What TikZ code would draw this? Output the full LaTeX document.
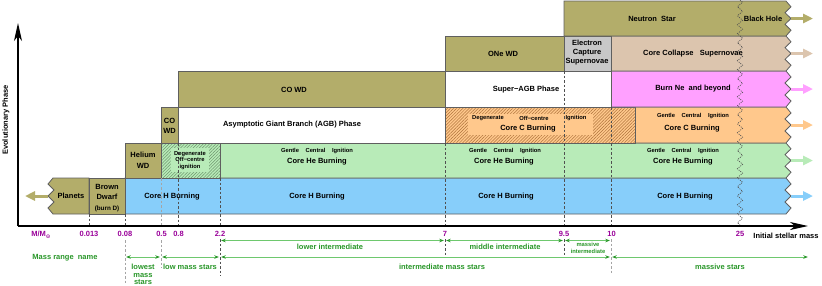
\documentclass[tikz,border=0pt]{standalone}
\usepackage{fontspec}
\setmainfont{Liberation Sans}
\newfontfamily\symfont{DejaVu Sans}
\usetikzlibrary{arrows.meta,patterns.meta,decorations.pathmorphing}
\definecolor{cOlive}{RGB}{179,173,106}
\definecolor{cBlue}{RGB}{135,206,250}
\definecolor{cGreen}{RGB}{184,235,184}
\definecolor{cOrange}{RGB}{255,200,140}
\definecolor{cPink}{RGB}{255,160,255}
\definecolor{cTan}{RGB}{220,197,174}
\definecolor{cGray}{RGB}{200,200,200}
\definecolor{cBorder}{RGB}{95,95,95}
\definecolor{cDash}{RGB}{80,80,80}
\definecolor{cDashL}{RGB}{165,165,165}
\definecolor{cPurple}{RGB}{153,0,153}
\definecolor{cGText}{RGB}{40,150,40}
\definecolor{cGLine}{RGB}{110,200,110}
\definecolor{cHatchG}{RGB}{110,150,110}
\definecolor{cHatchO}{RGB}{175,115,60}
\newcommand\zzbox[4]{%
  \path[box,fill=#4] (#1,#2) -- (786,#2) -- (791,{#2+(#3-#2)/6}) -- (785,{#2+2*(#3-#2)/6})
    -- (791,{#2+3*(#3-#2)/6}) -- (785,{#2+4*(#3-#2)/6}) -- (791,{#2+5*(#3-#2)/6})
    -- (786,#3) -- (#1,#3) -- cycle;}
\begin{document}
\begin{tikzpicture}[x=1bp,y=-1bp,
  box/.style={draw=cBorder,line width=0.8bp},
  hatch/.style={pattern={Lines[angle=45,distance=2.2bp,line width=0.5bp]}},
  txt/.style={font=\fontsize{7.5bp}{9bp}\selectfont\bfseries,inner sep=0pt,align=center},
  tiny/.style={font=\fontsize{5.8bp}{6.6bp}\selectfont\bfseries,inner sep=0pt,align=center},
  mlab/.style={font=\fontsize{7.5bp}{9bp}\selectfont\bfseries,text=cPurple,inner sep=0pt},
  glab/.style={font=\fontsize{7.5bp}{7.6bp}\selectfont\bfseries,text=cGText,inner sep=0pt,align=center},
  garrow/.style={draw=cGLine,line width=0.9bp,
     {Stealth[length=4.5bp,width=3.5bp,color=cGText]}-{Stealth[length=4.5bp,width=3.5bp,color=cGText]},
     shorten <=1.2bp,shorten >=1.2bp},
  dashd/.style={draw=cDash,line width=0.6bp,dash pattern=on 2.5bp off 2bp},
  dashl/.style={draw=cDashL,line width=0.6bp,dash pattern=on 2.5bp off 2bp},
  rowarrow/.style={line width=3bp,-{Triangle[length=10bp,width=9bp]}},
  axisline/.style={line width=1.4bp,-{Stealth[length=18bp,width=8bp,inset=5bp]}}]
\useasboundingbox (0,0) rectangle (822,285);

% ---------- row 1 : hydrogen
\zzbox{125}{178}{214}{cBlue}
\path[box,fill=cOlive] (53,178) -- (89,178) -- (89,214) -- (53,214) -- (48,208) -- (54,202)
   -- (48,196) -- (54,190) -- (48,184) -- cycle;
\path[box,fill=cOlive] (89,178) rectangle (125,214);
% ---------- row 2 : helium
\zzbox{220}{143}{178}{cGreen}
\path[box,fill=cOlive] (125,143) rectangle (161,178);
\path[fill=cGreen] (161,143) rectangle (220,178);
\path[hatch,pattern color=cHatchG] (161,143) rectangle (220,178);
\fill[cGreen] (171,148) rectangle (209,172);
\path[box] (161,143) rectangle (220,178);
% ---------- row 3 : carbon
\zzbox{635}{107}{143}{cOrange}
\path[fill=cOrange] (445,107) rectangle (635,143);
\path[hatch,pattern color=cHatchO] (445,107) rectangle (635,143);
\fill[cOrange] (468,114) rectangle (593,135);
\path[box] (445,107) rectangle (635,143);
\path[box,fill=white] (178,107) rectangle (445,143);
\path[box,fill=cOlive] (161,107) rectangle (178,143);
% ---------- row 4
\zzbox{611}{71}{107}{cPink}
\path[box,fill=white] (445,71) rectangle (611,107);
\path[box,fill=cOlive] (178,71) rectangle (445,107);
% ---------- row 5
\zzbox{611}{36}{71}{cTan}
\path[box,fill=cGray] (564,36) rectangle (611,71);
\path[box,fill=cOlive] (445,36) rectangle (564,71);
% ---------- row 6
\zzbox{564}{1}{36}{cOlive}

% ---------- row arrows
\coordinate (r6a) at (791,18.5);  \coordinate (r6b) at (813,18.5);
\coordinate (r5a) at (791,53.5);  \coordinate (r5b) at (813,53.5);
\coordinate (r4a) at (791,89);    \coordinate (r4b) at (813,89);
\coordinate (r3a) at (791,125);   \coordinate (r3b) at (813,125);
\coordinate (r2a) at (791,160.5); \coordinate (r2b) at (813,160.5);
\coordinate (r1a) at (791,196);   \coordinate (r1b) at (813,196);
\coordinate (pla) at (48,196);    \coordinate (plb) at (25,196);
\draw[rowarrow,cOlive] (r6a) -- (r6b);
\draw[rowarrow,cTan] (r5a) -- (r5b);
\draw[rowarrow,cPink] (r4a) -- (r4b);
\draw[rowarrow,cOrange] (r3a) -- (r3b);
\draw[rowarrow,cGreen] (r2a) -- (r2b);
\draw[rowarrow,cBlue] (r1a) -- (r1b);
\draw[rowarrow,cOlive] (pla) -- (plb);

% ---------- dashed mass limits
\draw[dashd] (89,214) -- (89,226);
\draw[dashd] (125,214) -- (125,226);
\draw[dashl] (125,240) -- (125,283);
\draw[dashl] (161,178) -- (161,226);
\draw[dashl] (161,240) -- (161,268);
\draw[dashd] (178,143) -- (178,226);
\draw[dashd] (220,178) -- (220,226);
\draw[dashd] (220,239) -- (220,276);
\draw[dashd] (445,143) -- (445,226);
\draw[dashd] (445,239) -- (445,256);
\draw[dashd] (564,71) -- (564,226);
\draw[dashd] (564,239) -- (564,256);
\draw[dashd] (611,107) -- (611,226);
\draw[dashl] (611,239) -- (611,273);
\draw[cDash,line width=0.7bp,dash pattern=on 1bp off 1.2bp,decorate,
      decoration={zigzag,segment length=9bp,amplitude=2.6bp}] (740,0) -- (740,226);

% ---------- axes
\coordinate (O) at (18,226);
\coordinate (Xend) at (808,226);
\coordinate (Yend) at (18,23);
\draw[axisline] (O) -- (Xend);
\draw[axisline] (O) -- (Yend);
\node[txt,rotate=90] (ylab) at (6,120) {Evolutionary Phase};
\node[txt] (xlab) at (786,236) {Initial stellar mass};

% ---------- box texts
\node[txt] (ns) at (652,18.5) {Neutron\ \ Star};
\node[txt] (bh) at (763,18.5) {Black Hole};
\node[txt] (onewd) at (503,54) {ONe WD};
\node[txt] (ecsn) at (587,53) {Electron\\Capture\\Supernovae};
\node[txt] (ccsn) at (693,54) {Core Collapse\ \ \ Supernovae};
\node[txt] (cowd) at (294,89.5) {CO WD};
\node[txt] (sagb) at (526,89.5) {Super−AGB Phase};
\node[txt] (ne) at (693,89) {Burn Ne\ \ and beyond};
\node[txt,font=\fontsize{7.5bp}{10bp}\selectfont\bfseries] (cowds) at (169.5,126) {CO\\WD};
\node[txt] (agb) at (292,125) {Asymptotic Giant Branch (AGB) Phase};
\node[tiny] (dgo1) at (488,118) {Degenerate};
\node[tiny] (dgo2) at (534,118) {Off−centre};
\node[tiny] (dgo3) at (576,118) {Ignition};
\node[txt] (cc1) at (528,129) {Core C Burning};
\node[tiny] (gci3) at (693,116) {Gentle\hspace{6.5bp}Central\hspace{6.5bp}Ignition};
\node[txt] (cc2) at (692,129) {Core C Burning};
\node[txt,font=\fontsize{7.5bp}{10.5bp}\selectfont\bfseries] (hewd) at (143,160.5) {Helium\\WD};
\node[tiny] (dgh) at (190,160.5) {Degenerate\\Off−centre\\ignition};
\node[tiny] (gc1) at (317,151) {Gentle\hspace{6.5bp}Central\hspace{6.5bp}Ignition};
\node[txt] (he1) at (317,162) {Core He Burning};
\node[tiny] (gc2) at (505,151) {Gentle\hspace{6.5bp}Central\hspace{6.5bp}Ignition};
\node[txt] (he2) at (504,162) {Core He Burning};
\node[tiny] (gc3) at (683,151) {Gentle\hspace{6.5bp}Central\hspace{6.5bp}Ignition};
\node[txt] (he3) at (683,162) {Core He Burning};
\node[txt] (pl) at (71,196) {Planets};
\node[txt,font=\fontsize{7.5bp}{10bp}\selectfont\bfseries] (bd) at (107,192) {Brown\\Dwarf};
\node[txt,font=\fontsize{6.3bp}{7bp}\selectfont\bfseries] (burnd) at (107,208.5) {(burn D)};
\node[txt] (h1) at (172,196.5) {Core H Burning};
\node[txt] (h2) at (317,196.5) {Core H Burning};
\node[txt] (h3) at (506,196.5) {Core H Burning};
\node[txt] (h4) at (685,196.5) {Core H Burning};

% ---------- mass labels
\node[mlab] (mm) at (41,235) {M/M\raisebox{-2.5bp}{\fontsize{5.5bp}{5.5bp}\selectfont\symfont ⊙}};
\node[mlab] (m1) at (89,234) {0.013};
\node[mlab] (m2) at (125,234) {0.08};
\node[mlab] (m3) at (161.5,234) {0.5};
\node[mlab] (m4) at (178.5,234) {0.8};
\node[mlab] (m5) at (220,233.5) {2.2};
\node[mlab] (m6) at (445,233.5) {7};
\node[mlab] (m7) at (564,233.5) {9.5};
\node[mlab] (m8) at (611.5,233.5) {10};
\node[mlab] (m9) at (740,233.5) {25};

% ---------- mass range names
\coordinate (a1) at (220,240.5); \coordinate (a2) at (445,240.5);
\coordinate (a3) at (564,240.5); \coordinate (a4) at (611,240.5);
\coordinate (b1) at (125,257); \coordinate (b2) at (161,257);
\coordinate (b3) at (220,257); \coordinate (b4) at (611,257);
\coordinate (b5) at (809,257);
\draw[garrow] (a1) -- (a2);
\draw[garrow] (a2) -- (a3);
\draw[garrow] (a3) -- (a4);
\draw[garrow] (b1) -- (b2);
\draw[garrow] (b2) -- (b3);
\draw[garrow] (b3) -- (b4);
\draw[garrow] (b4) -- (b5);
\node[glab] (lowint) at (330,247) {lower intermediate};
\node[glab] (midint) at (505,247) {middle intermediate};
\node[glab,font=\fontsize{5.8bp}{7.5bp}\selectfont\bfseries] (massint) at (588,248) {massive\\intermediate};
\node[glab] (mrn) at (65,258) {Mass range\ \ name};
\node[glab] (lowest) at (143,274.5) {lowest\\mass\\stars};
\node[glab] (lowms) at (190,267) {low mass stars};
\node[glab] (intms) at (442,267) {intermediate mass stars};
\node[glab] (massive) at (720,267) {massive stars};
\end{tikzpicture}
\end{document}
